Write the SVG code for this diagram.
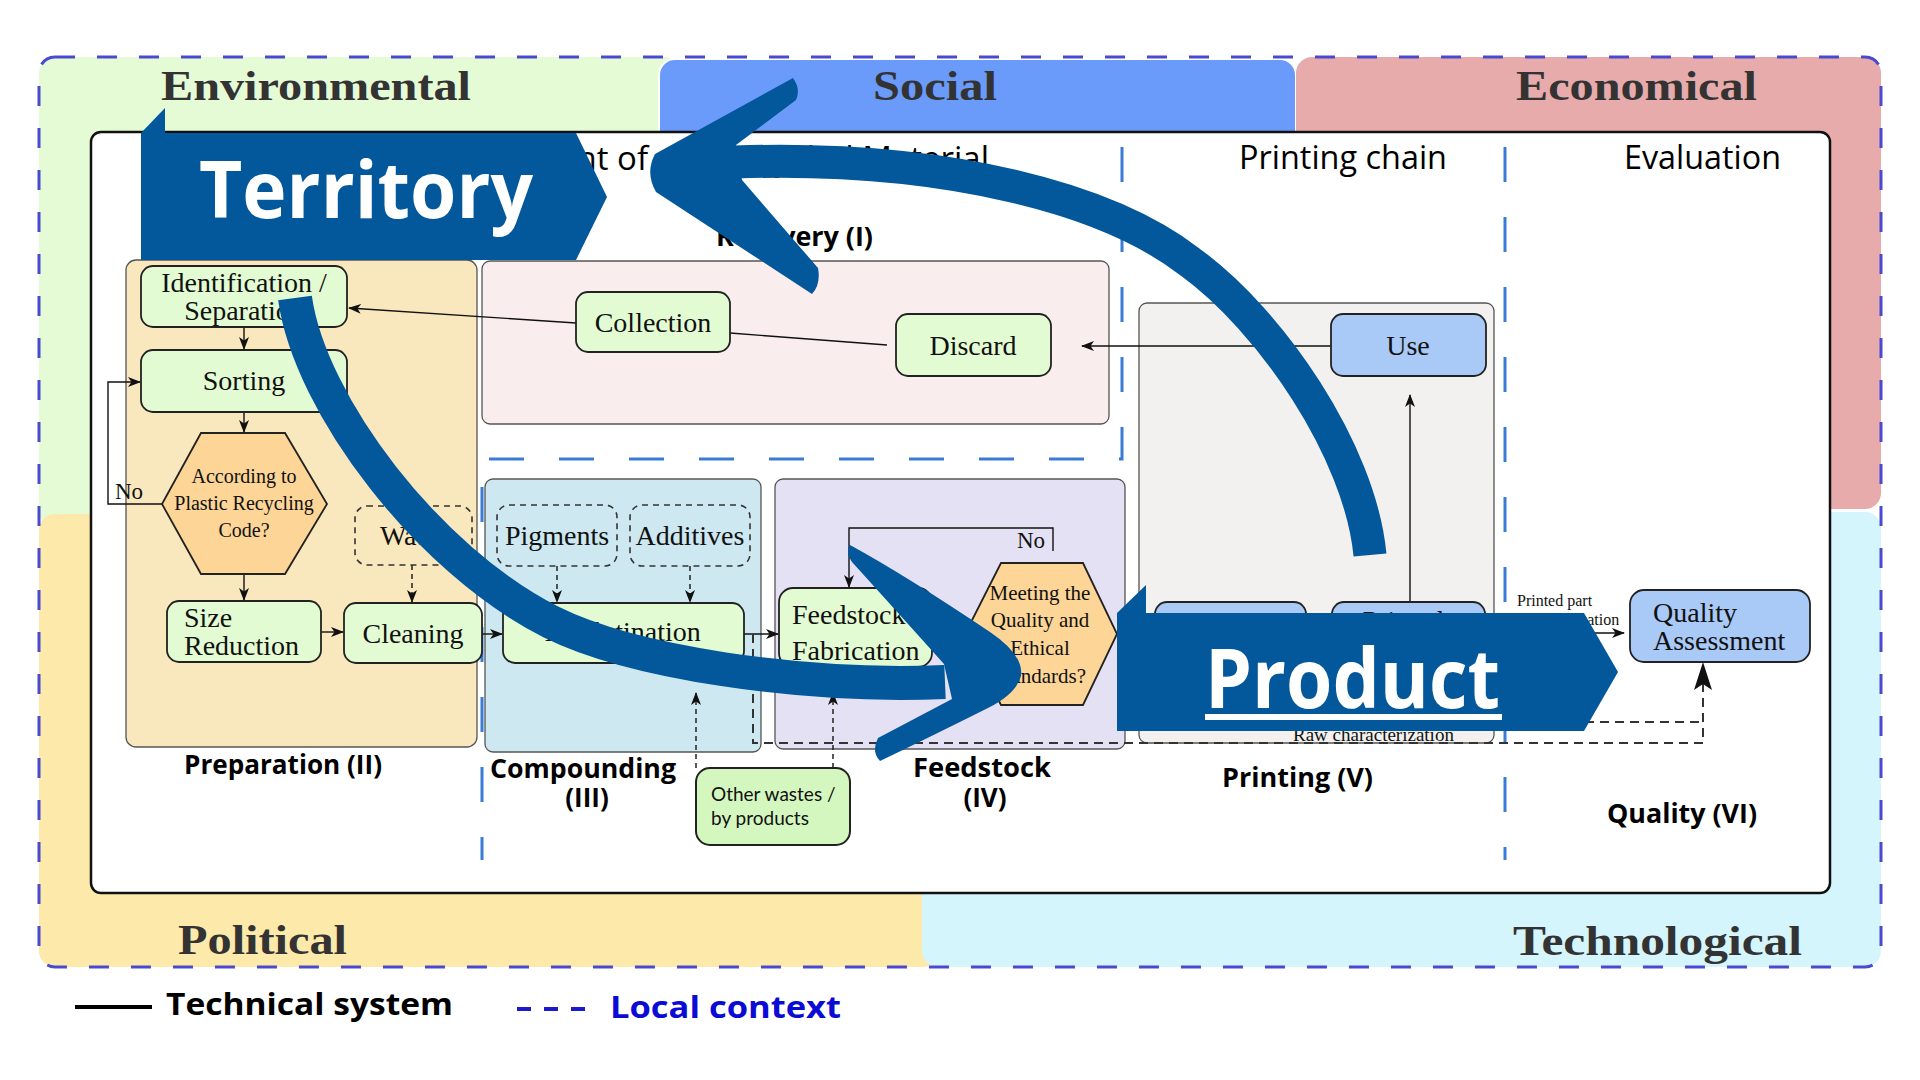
<svg xmlns="http://www.w3.org/2000/svg" width="1920" height="1080" viewBox="0 0 1920 1080">
<defs>
<style>
.q{font-family:"Liberation Serif",serif;font-weight:bold;font-size:42px;fill:#333}
.n{font-family:"Liberation Serif",serif;font-size:28px;fill:#111}
.hx{font-family:"Liberation Serif",serif;font-size:20px;fill:#111}
.sm{font-family:"Liberation Serif",serif;font-size:16px;fill:#111}
.st{font-family:"Open Sans",sans-serif;font-weight:bold;font-size:26px;fill:#000}
.hdr{font-family:"Open Sans",sans-serif;font-size:33px;fill:#000}
.big{font-family:"Open Sans",sans-serif;font-weight:bold;fill:#fff}
.grp{stroke:#555;stroke-width:1.3}
.node{fill:#e3fbd3;stroke:#222;stroke-width:1.8}
.bnode{fill:#a9c9f7;stroke:#222;stroke-width:1.8}
.dnode{fill:none;stroke:#333;stroke-width:1.6;stroke-dasharray:6 5}
.hex{fill:#fcd597;stroke:#222;stroke-width:1.8}
.ln{fill:none;stroke:#111;stroke-width:1.4}
.dl{fill:none;stroke:#222;stroke-width:1.5;stroke-dasharray:5 4}
.dd{fill:none;stroke:#333;stroke-width:2;stroke-dasharray:9 6}
.sep{fill:none;stroke:#3a7bd5;stroke-width:3;stroke-dasharray:35 35}
.blue{fill:#03579b}
</style>
<marker id="ar" markerUnits="userSpaceOnUse" markerWidth="13" markerHeight="10" refX="12" refY="5" orient="auto">
<path d="M0,0 L13,5 L0,10 L3.5,5 Z" fill="#111"/>
</marker>
<marker id="arB" markerUnits="userSpaceOnUse" markerWidth="28" markerHeight="18" refX="27" refY="9" orient="auto">
<path d="M0,0 L28,9 L0,18 L6,9 Z" fill="#111"/>
</marker>
</defs>

<g id="context">
<rect x="39" y="57" width="640" height="470" rx="16" fill="#e5fbd6"/>
<rect x="659" y="59" width="637" height="300" rx="16" fill="#6a9bfb" stroke="#fff" stroke-width="2"/>
<rect x="1296" y="57" width="585" height="452" rx="16" fill="#e8abab"/>
<rect x="39" y="514" width="900" height="453" rx="16" fill="#fde9a9"/>
<rect x="922" y="512" width="959" height="455" rx="16" fill="#d5f5fc"/>
<rect x="39" y="57" width="1842" height="910" rx="16" fill="none" stroke="#4a4ad0" stroke-width="3" stroke-dasharray="20 22"/>
<text class="q" x="161" y="100" textLength="310" lengthAdjust="spacingAndGlyphs">Environmental</text>
<text class="q" x="873" y="100" textLength="124" lengthAdjust="spacingAndGlyphs">Social</text>
<text class="q" x="1516" y="100" textLength="241" lengthAdjust="spacingAndGlyphs">Economical</text>
<text class="q" x="178" y="954" textLength="169" lengthAdjust="spacingAndGlyphs">Political</text>
<text class="q" x="1513" y="955" textLength="289" lengthAdjust="spacingAndGlyphs">Technological</text>
</g>

<g id="technical-system">
<rect x="91" y="132" width="1739" height="761" rx="10" fill="#fff" stroke="#111" stroke-width="2.5"/>
<text class="hdr" y="170" text-anchor="end"><tspan x="648">Management of</tspan><tspan x="989"> Recycled Material</tspan></text>
<text class="hdr" x="1239" y="169" textLength="208" lengthAdjust="spacingAndGlyphs">Printing chain</text>
<text class="hdr" x="1624" y="169" textLength="157" lengthAdjust="spacingAndGlyphs">Evaluation</text>
<path class="sep" d="M1122,147 V459 H482 V860"/>
<path class="sep" d="M1505,147 V860"/>
</g>

<g id="stage-recovery">
<rect class="grp" x="482" y="261" width="627" height="163" rx="8" fill="#f9eded"/>
<text class="st" x="716" y="246" textLength="157" lengthAdjust="spacingAndGlyphs">Recovery (I)</text>
</g>
<g id="stage-preparation">
<rect class="grp" x="126" y="260" width="351" height="487" rx="10" fill="#f9e7bd"/>
<text class="st" x="184" y="774" textLength="198" lengthAdjust="spacingAndGlyphs">Preparation (II)</text>
</g>
<g id="stage-compounding">
<rect class="grp" x="485" y="479" width="276" height="273" rx="8" fill="#cde8f0"/>
<text class="st" x="490" y="778" textLength="186" lengthAdjust="spacingAndGlyphs">Compounding</text>
<text class="st" x="587" y="807" text-anchor="middle">(III)</text>
</g>
<g id="stage-feedstock">
<rect class="grp" x="775" y="479" width="350" height="270" rx="8" fill="#e5e1f4"/>
<text class="st" x="913" y="777" textLength="138" lengthAdjust="spacingAndGlyphs">Feedstock</text>
<text class="st" x="985" y="807" text-anchor="middle">(IV)</text>
</g>
<g id="stage-printing">
<rect class="grp" x="1139" y="303" width="355" height="440" rx="8" fill="#f2f1ef"/>
<text class="st" x="1222" y="787" textLength="151" lengthAdjust="spacingAndGlyphs">Printing (V)</text>
</g>
<g id="stage-quality">
<text class="st" x="1607" y="823" textLength="150" lengthAdjust="spacingAndGlyphs">Quality (VI)</text>
</g>

<g id="connectors">
<path class="ln" d="M244,327 V349" marker-end="url(#ar)"/>
<path class="ln" d="M244,412 V432" marker-end="url(#ar)"/>
<path class="ln" d="M244,574 V600" marker-end="url(#ar)"/>
<path class="ln" d="M162,504 H108 V382 H140" marker-end="url(#ar)"/>
<path class="ln" d="M321,632 H343" marker-end="url(#ar)"/>
<path class="dl" d="M412,565 V602" marker-end="url(#ar)"/>
<path class="ln" d="M481,634 H502" marker-end="url(#ar)"/>
<path class="dl" d="M557,566 V602" marker-end="url(#ar)"/>
<path class="dl" d="M690,566 V602" marker-end="url(#ar)"/>
<path class="ln" d="M744,634 H778" marker-end="url(#ar)"/>
<path class="dl" d="M696,768 V693" marker-end="url(#ar)"/>
<path class="dl" d="M833,768 V693" marker-end="url(#ar)"/>
<path class="ln" d="M1053,551 V528 H849 V587" marker-end="url(#ar)"/>
<path class="ln" d="M576,323 L349,308" marker-end="url(#ar)"/>
<path class="ln" d="M887,345 L730,333"/>
<path class="ln" d="M1331,346 H1082" marker-end="url(#ar)"/>
<path class="ln" d="M1410,602 V395" marker-end="url(#ar)"/>
<path class="ln" d="M1560,633 H1624" marker-end="url(#ar)"/>
<path class="dd" d="M753,634 V743 H1703 V663" marker-end="url(#arB)"/>
<path class="dd" d="M1540,722 H1703"/>
<text class="n" x="115" y="499" style="font-size:23px">No</text>
<text class="n" x="1017" y="548" style="font-size:23px">No</text>
<text class="sm" x="1517" y="606">Printed part</text>
<text class="sm" x="1517" y="625">characterization</text>
<text class="sm" x="1293" y="741" style="font-size:19px">Raw characterization</text>
</g>

<g id="node-identification">
<rect class="node" x="141" y="266" width="206" height="61" rx="12"/>
<text class="n" x="244" y="292" text-anchor="middle">Identification /</text>
<text class="n" x="244" y="320" text-anchor="middle">Separation</text>
</g>
<g id="node-sorting">
<rect class="node" x="141" y="350" width="206" height="62" rx="12"/>
<text class="n" x="244" y="390" text-anchor="middle">Sorting</text>
</g>
<g id="node-plastic-code">
<polygon class="hex" points="201,433 285,433 327,504 285,574 201,574 162,504"/>
<text class="hx" x="244" y="483" text-anchor="middle">According to</text>
<text class="hx" x="244" y="510" text-anchor="middle">Plastic Recycling</text>
<text class="hx" x="244" y="537" text-anchor="middle">Code?</text>
</g>
<g id="node-size-reduction">
<rect class="node" x="167" y="601" width="154" height="61" rx="12"/>
<text class="n" x="184" y="627">Size</text>
<text class="n" x="184" y="655">Reduction</text>
</g>
<g id="node-water">
<rect class="dnode" x="355" y="506" width="117" height="59" rx="12"/>
<text class="n" x="413" y="545" text-anchor="middle">Water</text>
</g>
<g id="node-cleaning">
<rect class="node" x="344" y="603" width="138" height="60" rx="12"/>
<text class="n" x="413" y="643" text-anchor="middle">Cleaning</text>
</g>
<g id="node-collection">
<rect class="node" x="576" y="292" width="154" height="60" rx="12"/>
<text class="n" x="653" y="332" text-anchor="middle">Collection</text>
</g>
<g id="node-discard">
<rect class="node" x="896" y="314" width="155" height="62" rx="12"/>
<text class="n" x="973" y="355" text-anchor="middle">Discard</text>
</g>
<g id="node-pigments">
<rect class="dnode" x="497" y="505" width="120" height="61" rx="12"/>
<text class="n" x="557" y="545" text-anchor="middle">Pigments</text>
</g>
<g id="node-additives">
<rect class="dnode" x="630" y="505" width="120" height="61" rx="12"/>
<text class="n" x="690" y="545" text-anchor="middle">Additives</text>
</g>
<g id="node-agglutination">
<rect class="node" x="503" y="603" width="241" height="60" rx="12"/>
<text class="n" x="623" y="641" text-anchor="middle">Agglutination</text>
</g>
<g id="node-other-wastes">
<rect x="696" y="768" width="154" height="77" rx="14" fill="#d4f7bf" stroke="#222" stroke-width="2"/>
<text x="711" y="801" style="font-family:Lato,sans-serif;font-size:19px;fill:#111">Other wastes /</text>
<text x="711" y="825" style="font-family:Lato,sans-serif;font-size:19px;fill:#111">by products</text>
</g>
<g id="node-feedstock-fabrication">
<rect class="node" x="779" y="588" width="153" height="79" rx="14"/>
<text class="n" x="792" y="624">Feedstock</text>
<text class="n" x="792" y="660">Fabrication</text>
</g>
<g id="node-standards">
<polygon class="hex" points="1001,563 1083,563 1117,634 1083,705 1001,705 965,634"/>
<text class="hx" x="1040" y="600" text-anchor="middle" style="font-size:21px">Meeting the</text>
<text class="hx" x="1040" y="627" text-anchor="middle" style="font-size:21px">Quality and</text>
<text class="hx" x="1040" y="655" text-anchor="middle" style="font-size:21px">Ethical</text>
<text class="hx" x="1040" y="683" text-anchor="middle" style="font-size:21px">Standards?</text>
</g>
<g id="node-use">
<rect class="bnode" x="1331" y="314" width="155" height="62" rx="12"/>
<text class="n" x="1408" y="355" text-anchor="middle">Use</text>
</g>
<g id="node-printing">
<rect class="bnode" x="1155" y="602" width="151" height="60" rx="12"/>
</g>
<g id="node-printed-part">
<rect class="bnode" x="1332" y="602" width="153" height="60" rx="12"/>
<text class="n" x="1403" y="630" text-anchor="middle">Printed</text>
</g>
<g id="node-quality-assessment">
<rect class="bnode" x="1630" y="590" width="180" height="72" rx="14"/>
<text class="n" x="1653" y="622">Quality</text>
<text class="n" x="1653" y="650">Assessment</text>
</g>

<g id="cycle-arrows">
<path d="M1370,555 C1360,450 1270,320 1190,262 C1110,200 950,155 735,162" fill="none" stroke="#03579b" stroke-width="33"/>
<path class="blue" d="M655,154 L793,78 Q801,89 796,100 L736,145 L742,180 L818,268 Q821,284 812,294 L656,192 Q645,173 655,154 Z"/>
<path d="M295,298 C310,405 428,560 551,622 C631,662 800,688 945,682" fill="none" stroke="#03579b" stroke-width="34"/>
<path class="blue" d="M850,545 Q905,575 990,632 Q1024,655 1021,676 Q1016,694 988,708 Q930,737 880,761 Q871,752 878,738 L952,699 L944,664 Q900,615 852,562 Q845,552 850,545 Z"/>
</g>

<g id="territory">
<path class="blue" d="M141,133 L165,108 L165,133 Z"/>
<path class="blue" d="M141,133 L576,133 L607,197 L576,260 L141,260 Z"/>
<text class="big" x="199" y="218" style="font-size:78px" textLength="334" lengthAdjust="spacingAndGlyphs">Territory</text>
</g>
<g id="product">
<path class="blue" d="M1117,613 L1146,585 L1146,613 Z"/>
<path class="blue" d="M1117,613 L1584,613 L1618,672 L1584,731 L1117,731 Z"/>
<text class="big" x="1205" y="708" style="font-size:83px" textLength="295" lengthAdjust="spacingAndGlyphs">Product</text>
<rect x="1205" y="714" width="297" height="6" fill="#fff"/>
</g>

<g id="legend">
<line x1="75" y1="1007" x2="152" y2="1007" stroke="#000" stroke-width="4"/>
<text x="166" y="1015" style="font-family:'Open Sans',sans-serif;font-weight:bold;font-size:30px;fill:#000" textLength="287" lengthAdjust="spacingAndGlyphs">Technical system</text>
<line x1="517" y1="1009" x2="585" y2="1009" stroke="#1a1acc" stroke-width="4" stroke-dasharray="14 13"/>
<text x="610" y="1018" style="font-family:'Open Sans',sans-serif;font-weight:bold;font-size:30px;fill:#0b0bd6" textLength="231" lengthAdjust="spacingAndGlyphs">Local context</text>
</g>
</svg>
